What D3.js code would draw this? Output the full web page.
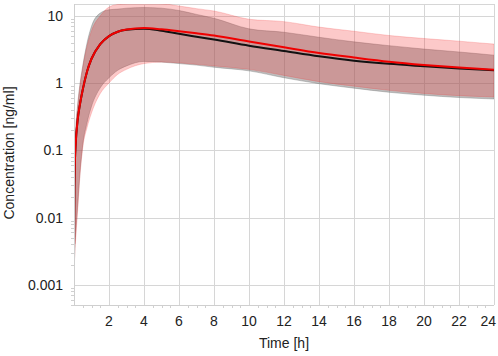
<!DOCTYPE html>
<html>
<head>
<meta charset="utf-8">
<script src="https://cdn.jsdelivr.net/npm/d3@7"></script>
<style>
    body { margin: 0; background: #fff; }
    svg { display: block; font-family: Arial, "Liberation Sans", sans-serif; }
</style>
</head>
<body>
<div id="js-chart"></div>
<script>
// 时间点 (h)
var times = [0.003, 0.02, 0.05, 0.1, 0.2, 0.35, 0.5, 0.75, 1, 1.5, 2, 2.5, 3, 4, 5, 6, 7, 8, 10, 12, 14, 16, 18, 20, 22, 24];

// 中位数曲线
var blackMedian = [0.004, 0.025, 0.065, 0.13, 0.27, 0.5, 0.8, 1.5, 2.3, 3.8, 5.0, 5.8, 6.2, 6.45, 6.0, 5.4, 4.9, 4.45, 3.6, 3.0, 2.5, 2.15, 1.93, 1.78, 1.65, 1.55];
var redMedian = [0.004, 0.025, 0.065, 0.13, 0.27, 0.5, 0.8, 1.5, 2.3, 3.8, 5.0, 5.8, 6.25, 6.6, 6.3, 5.9, 5.5, 5.1, 4.15, 3.4, 2.8, 2.4, 2.08, 1.86, 1.7, 1.58];

// 置信带
var grayLower = [0.0012, 0.002, 0.0035, 0.006, 0.014, 0.05, 0.12, 0.26, 0.45, 0.85, 1.2, 1.55, 1.8, 2.1, 2.05, 1.95, 1.85, 1.72, 1.52, 1.2, 0.98, 0.84, 0.73, 0.66, 0.61, 0.58];
var grayUpper = [0.005, 0.035, 0.09, 0.2, 0.45, 1.0, 1.8, 4.0, 7.0, 11.0, 12.3, 12.6, 13.0, 13.3, 13.0, 12.0, 10.5, 9.2, 6.4, 5.7, 4.8, 4.1, 3.6, 3.2, 2.9, 2.6];
var pinkLower = [0.001, 0.0018, 0.003, 0.005, 0.012, 0.045, 0.11, 0.22, 0.36, 0.7, 1.0, 1.35, 1.6, 1.95, 2.05, 2.0, 1.9, 1.8, 1.6, 1.3, 1.05, 0.9, 0.78, 0.7, 0.65, 0.62];
var pinkUpper = [0.005, 0.035, 0.09, 0.2, 0.42, 0.95, 1.7, 3.6, 6.0, 10.0, 13.5, 14.8, 15.2, 15.4, 15.2, 14.0, 12.8, 11.8, 8.9, 8.2, 6.8, 5.9, 5.1, 4.6, 4.2, 3.8];

// 刻度
var xTicks = [2, 4, 6, 8, 10, 12, 14, 16, 18, 20, 22, 24];
var yTicks = [0.001, 0.01, 0.1, 1, 10];

var width = 498, height = 356;
var margin = {top: 4, right: 4, bottom: 51, left: 74};

var svg = d3.select("#js-chart").append("svg")
    .attr("width", width)
    .attr("height", height);

var x = d3.scaleLinear()
    .domain([0, 24])
    .range([margin.left, width - margin.right]);

var y = d3.scaleLog()
    .domain([0.0005, 15])
    .range([height - margin.bottom, margin.top]);

var x0 = margin.left, x1 = width - margin.right;
var y0 = height - margin.bottom, y1 = margin.top;

// 网格
var grid = svg.append("g").attr("class", "grid")
    .attr("stroke", "#d6d6d6")
    .attr("stroke-width", 1);

grid.selectAll(".gx").data(xTicks).enter().append("line")
    .attr("x1", function (d) { return Math.round(x(d)) + 0.5; })
    .attr("x2", function (d) { return Math.round(x(d)) + 0.5; })
    .attr("y1", y1)
    .attr("y2", y0);

grid.selectAll(".gy").data(yTicks).enter().append("line")
    .attr("x1", x0)
    .attr("x2", x1)
    .attr("y1", function (d) { return Math.round(y(d)) + 0.5; })
    .attr("y2", function (d) { return Math.round(y(d)) + 0.5; });

// 顶部边框
grid.append("line")
    .attr("x1", x0).attr("x2", x1)
    .attr("y1", y1 + 0.5).attr("y2", y1 + 0.5);

// 次刻度
var minorX = d3.range(0.5, 24.01, 0.5).filter(function (d) { return d % 2 !== 0; });
var minorY = [];
[0.0001, 0.001, 0.01, 0.1, 1, 10].forEach(function (dec) {
    d3.range(2, 10).forEach(function (k) {
        var v = dec * k;
        if (v >= 0.0005 && v <= 15) minorY.push(v);
    });
});

var minor = svg.append("g").attr("stroke", "#d0d0d0");
minor.selectAll(".mx").data(minorX).enter().append("line")
    .attr("x1", function (d) { return Math.round(x(d)) + 0.5; })
    .attr("x2", function (d) { return Math.round(x(d)) + 0.5; })
    .attr("y1", y0)
    .attr("y2", y0 + 3);
minor.selectAll(".my").data(minorY).enter().append("line")
    .attr("x1", x0 - 3)
    .attr("x2", x0)
    .attr("y1", function (d) { return Math.round(y(d)) + 0.5; })
    .attr("y2", function (d) { return Math.round(y(d)) + 0.5; });

// 置信带
function band(lower, upper) {
    return d3.area()
        .x(function (d, i) { return x(times[i]); })
        .y0(function (d, i) { return y(lower[i]); })
        .y1(function (d, i) { return y(upper[i]); })
        .curve(d3.curveMonotoneX)(times);
}

svg.append("clipPath").attr("id", "plot-clip")
    .append("rect")
    .attr("x", x0).attr("y", y1)
    .attr("width", x1 - x0).attr("height", y0 - y1);

var plot = svg.append("g").attr("clip-path", "url(#plot-clip)");

plot.append("path")
    .attr("d", band(grayLower, grayUpper))
    .attr("fill", "rgba(110,110,110,0.45)")
    .attr("stroke", "rgba(110,110,110,0.35)")
    .attr("stroke-width", 1);

plot.append("path")
    .attr("d", band(pinkLower, pinkUpper))
    .attr("fill", "rgba(245,40,40,0.25)")
    .attr("stroke", "rgba(245,40,40,0.2)")
    .attr("stroke-width", 1);

// 中位数
function medianLine(vals) {
    return d3.line()
        .x(function (d, i) { return x(times[i]); })
        .y(function (d, i) { return y(vals[i]); })
        .curve(d3.curveMonotoneX)(times);
}

plot.append("path")
    .attr("d", medianLine(blackMedian))
    .attr("fill", "none")
    .attr("stroke", "#111")
    .attr("stroke-width", 2);

plot.append("path")
    .attr("d", medianLine(redMedian))
    .attr("fill", "none")
    .attr("stroke", "#f00000")
    .attr("stroke-width", 2);

// 坐标轴线
svg.append("line")
    .attr("x1", x0 + 0.5).attr("x2", x0 + 0.5)
    .attr("y1", y1).attr("y2", y0)
    .attr("stroke", "#cfcfcf");
svg.append("line")
    .attr("x1", x0).attr("x2", x1)
    .attr("y1", y0 + 0.5).attr("y2", y0 + 0.5)
    .attr("stroke", "#cfcfcf");

// 刻度文字 (最后一个靠右对齐)
svg.append("g").selectAll("text").data(xTicks).enter().append("text")
    .attr("x", function (d, i) { return i === xTicks.length - 1 ? width - 2 : x(d); })
    .attr("y", y0 + 21)
    .attr("text-anchor", function (d, i) { return i === xTicks.length - 1 ? "end" : "middle"; })
    .attr("font-size", 14)
    .attr("fill", "#222")
    .text(function (d) { return d; });

svg.append("g").selectAll("text").data(yTicks).enter().append("text")
    .attr("x", x0 - 11)
    .attr("y", function (d) { return y(d) + 5; })
    .attr("text-anchor", "end")
    .attr("font-size", 14)
    .attr("fill", "#222")
    .text(function (d) { return String(d); });

// 轴标题
svg.append("text")
    .attr("x", 284)
    .attr("y", 348)
    .attr("text-anchor", "middle")
    .attr("font-size", 14)
    .attr("fill", "#222")
    .text("Time [h]");

svg.append("text")
    .attr("transform", "translate(14,153) rotate(-90)")
    .attr("text-anchor", "middle")
    .attr("font-size", 14)
    .attr("fill", "#222")
    .text("Concentration [ng/ml]");
</script>
</body>
</html>
